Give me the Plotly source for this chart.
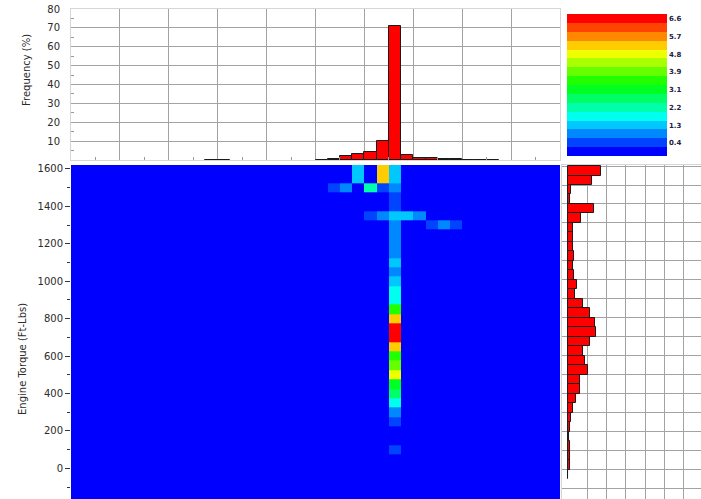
import plotly.graph_objects as go

# ---- data -------------------------------------------------------------
# Column bins along the horizontal axis (40 equal bins)
x_edges = list(range(0, 41))

# Torque bins (Ft-Lbs): edges, the top bin collects everything above 1525
torque_edges = [-175, -125, -75, -25, 25, 75, 125, 175, 225, 275, 325, 375, 425,
                475, 525, 575, 625, 675, 725, 775, 825, 875, 925, 975, 1025,
                1075, 1125, 1175, 1225, 1275, 1325, 1375, 1425, 1475, 1525, 1625]
torque_centers = [-150, -100, -50, 0, 50, 100, 150, 200, 250, 300, 350, 400, 450,
                  500, 550, 600, 650, 700, 750, 800, 850, 900, 950, 1000, 1050,
                  1100, 1150, 1200, 1250, 1300, 1350, 1400, 1450, 1500, 1550]

# Non-empty cells of the 2-D distribution (% of time)
cell_torque = [1550, 1550, 1550,
               1500, 1500, 1500, 1500, 1500,
               1450, 1400,
               1350, 1350, 1350, 1350, 1350,
               1300, 1300, 1300, 1300,
               1250, 1200, 1150, 1100, 1050, 1000, 950, 900, 850, 800, 750, 700,
               650, 600, 550, 500, 450, 400, 350, 300, 250, 100]
cell_bin = [23, 25, 26,
            21, 22, 24, 25, 26,
            26, 26,
            24, 25, 26, 27, 28,
            26, 29, 30, 31,
            26, 26, 26, 26, 26, 26, 26, 26, 26, 26, 26, 26,
            26, 26, 26, 26, 26, 26, 26, 26, 26, 26]
cell_pct = [1.35, 5.3, 1.35,
            0.45, 0.9, 2.2, 0.45, 0.9,
            0.45, 0.45,
            0.45, 0.9, 1.35, 1.35, 0.9,
            0.9, 0.45, 0.9, 0.45,
            0.9, 0.9, 0.9, 1.35, 0.9, 1.35, 1.8, 1.8, 3.55, 5.3, 6.65, 6.65,
            5.3, 3.55, 4.0, 4.9, 3.1, 2.65, 1.8, 0.9, 0.45, 0.45]

# Marginal distribution along the horizontal axis
top_bins = [11, 12, 20, 21, 22, 23, 24, 25, 26, 27, 28, 29, 30, 31, 32, 33, 34]
top_freq = [0.15, 0.15, 0.2, 0.7, 2.0, 3.3, 4.5, 10.0, 71.0, 2.5, 1.3, 1.3,
            0.7, 0.7, 0.2, 0.2, 0.2]

# Marginal distribution of engine torque
side_torque = [1550, 1500, 1450, 1400, 1350, 1300, 1250, 1200, 1150, 1100, 1050,
               1000, 950, 900, 850, 800, 750, 700, 650, 600, 550, 500, 450, 400,
               350, 300, 250, 200, 150, 100, 50, 0, -50]
side_freq = [8.5, 6.4, 0.85, 0.5, 6.9, 3.5, 1.5, 1.4, 1.4, 1.7, 1.5,
             1.6, 2.3, 1.9, 3.9, 5.8, 7.0, 7.3, 5.7, 3.9, 4.4, 5.3, 3.3, 3.2,
             2.2, 1.5, 0.8, 0.6, 0.45, 0.7, 0.7, 0.7, 0.2]

# Colour bar levels and labels
level_vals = [0.4433, 1.33, 2.2167, 3.1033, 3.99, 4.8767, 5.7633, 6.65]
level_text = ["0.4", "1.3", "2.2", "3.1", "3.9", "4.8", "5.7", "6.6"]

# ---- styling ------------------------------------------------------------
band_colors = ["#0000FF", "#0044FF", "#0088FF", "#00C8FF", "#00FFEE", "#00FFAA",
               "#00FF66", "#00FF22", "#22FF00", "#66FF00", "#AAFF00", "#EEFF00",
               "#FFCC00", "#FF8800", "#FF4400", "#FF0000"]
n_bands = len(band_colors)
colorscale = []
for i, c in enumerate(band_colors):
    colorscale.append([i / n_bands, c])
    colorscale.append([(i + 1) / n_bands, c])
band_step = 6.65 / 15
zmin = -band_step / 2
zmax = zmin + band_step * n_bands

FONT = "DejaVu Sans"
TXT = "#2b2b2b"
GRID = "#a3a3a3"
FRAME = "#d6d6d6"

# ---- build the grid of values --------------------------------------------
z = [[0.0] * (len(x_edges) - 1) for _ in torque_centers]
for t, b, p in zip(cell_torque, cell_bin, cell_pct):
    z[torque_centers.index(t)][b] = p

fig = go.Figure()

fig.add_trace(go.Heatmap(
    x=x_edges, y=torque_edges, z=z,
    colorscale=colorscale, zmin=zmin, zmax=zmax,
    xaxis="x", yaxis="y", hoverinfo="skip",
    colorbar=dict(
        x=0.7878, xanchor="left", xpad=0,
        y=0.8446, yanchor="middle", ypad=0,
        len=142, lenmode="pixels",
        thickness=100, thicknessmode="pixels",
        outlinewidth=0, ticks="",
        tickvals=level_vals, ticktext=level_text,
        tickfont=dict(family=FONT, size=7, color="#1c2040", weight="bold"),
    ),
))

fig.add_trace(go.Bar(
    x=[b + 0.5 for b in top_bins], y=top_freq, width=1,
    marker=dict(color="#FF0000", line=dict(color="#1a1a1a", width=1)),
    xaxis="x2", yaxis="y2", hoverinfo="skip",
))

fig.add_trace(go.Bar(
    y=side_torque, x=side_freq, width=50, orientation="h",
    marker=dict(color="#FF0000", line=dict(color="#1a1a1a", width=1)),
    xaxis="x3", yaxis="y3", hoverinfo="skip",
))

main_x_dom = [0, 0.7762]
main_y_dom = [0, 0.6816]

fig.update_layout(
    width=701, height=499,
    margin=dict(l=71, r=0, t=9, b=0),
    paper_bgcolor="white", plot_bgcolor="white",
    showlegend=False, bargap=0,
    font=dict(family=FONT, size=10, color=TXT),
    xaxis=dict(domain=main_x_dom, range=[0, 40], showticklabels=False,
               showgrid=False, zeroline=False, ticks="", anchor="y"),
    yaxis=dict(domain=main_y_dom, range=[-164, 1621], anchor="x",
               tickvals=list(range(0, 1601, 200)), ticks="outside", ticklen=5,
               tickcolor="#333333", showgrid=False, zeroline=False,
               tickfont=dict(family=FONT, size=10, color=TXT),
               minor=dict(tickvals=list(range(-100, 1601, 200)), ticks="outside",
                          ticklen=3, tickcolor="#333333")),
    xaxis2=dict(domain=main_x_dom, range=[0, 40], anchor="y2",
                showticklabels=False, tickvals=list(range(4, 40, 4)), ticks="",
                showgrid=True, gridcolor=GRID, gridwidth=1, zeroline=False,
                showline=True, mirror=True, linecolor=FRAME,
                minor=dict(tickvals=list(range(2, 40, 4)), ticks="inside",
                           ticklen=3, tickcolor="#9a9a9a")),
    yaxis2=dict(domain=[0.6918, 1], range=[0, 80], anchor="x2",
                tickvals=list(range(10, 81, 10)), ticks="", ticklabelstandoff=8,
                showgrid=True, gridcolor=GRID, gridwidth=1, zeroline=False,
                showline=True, mirror=True, linecolor=FRAME,
                tickfont=dict(family=FONT, size=10, color=TXT),
                minor=dict(tickvals=list(range(5, 80, 10)), ticks="inside",
                           ticklen=3, tickcolor="#9a9a9a")),
    xaxis3=dict(domain=[0.7794, 1], range=[-1.45, 34.4], anchor="y3",
                showticklabels=False, tickvals=list(range(5, 35, 5)), ticks="",
                showgrid=True, gridcolor=GRID, gridwidth=1, zeroline=False,
                showline=True, mirror=True, linecolor=FRAME),
    yaxis3=dict(domain=main_y_dom, range=[-179.4, 1580.3], anchor="x3",
                showticklabels=False, tickvals=list(range(-125, 1576, 100)),
                ticks="", showgrid=True, gridcolor=GRID, gridwidth=1,
                zeroline=False, showline=True, mirror=True, linecolor=FRAME),
    annotations=[
        dict(text="Frequency (%)", xref="paper", yref="paper",
             x=-0.0714, y=0.8755, xanchor="center", yanchor="middle",
             textangle=-90, showarrow=False,
             font=dict(family=FONT, size=10, color=TXT)),
        dict(text="Engine Torque (Ft-Lbs)", xref="paper", yref="paper",
             x=-0.0778, y=0.2857, xanchor="center", yanchor="middle",
             textangle=-90, showarrow=False,
             font=dict(family=FONT, size=10, color=TXT)),
    ],
)

fig.write_html("out.html")
